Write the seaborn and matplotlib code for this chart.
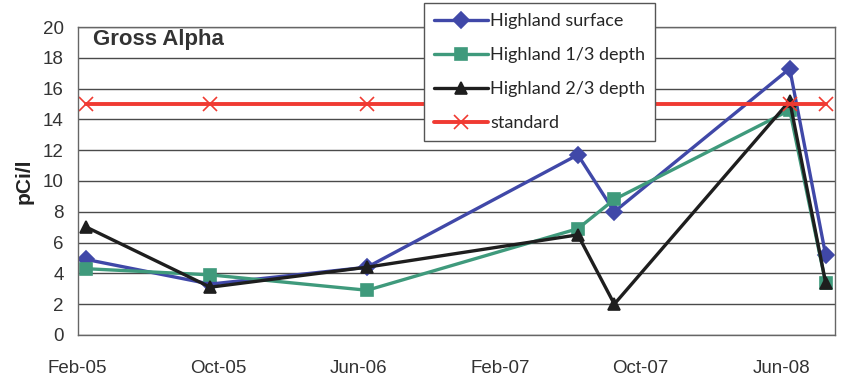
import pandas as pd
import seaborn as sns
import matplotlib.pyplot as plt

# Sampling dates and measured gross alpha (pCi/l)
sample_dates = ["2005-02-16", "2005-09-18", "2006-06-16", "2007-06-15",
                "2007-08-17", "2008-06-15", "2008-08-16"]
surface = [4.9, 3.3, 4.4, 11.7, 8.0, 17.3, 5.2]
depth_1_3 = [4.3, 3.9, 2.9, 6.9, 8.8, 14.6, 3.4]
depth_2_3 = [7.0, 3.1, 4.4, 6.5, 2.0, 15.2, 3.4]
standard = [15, 15, 15, 15, 15, 15, 15]

series_names = ["Highland surface", "Highland 1/3 depth", "Highland 2/3 depth"]
tick_dates = ["2005-02-01", "2005-10-01", "2006-06-01", "2007-02-01", "2007-10-01", "2008-06-01"]
tick_labels = ["Feb-05", "Oct-05", "Jun-06", "Feb-07", "Oct-07", "Jun-08"]

# Build a long table for seaborn
frames = []
for name, vals in zip(series_names, [surface, depth_1_3, depth_2_3]):
    frames.append(pd.DataFrame({"date": pd.to_datetime(sample_dates), "value": vals, "series": name}))
df = pd.concat(frames, ignore_index=True)
df_std = pd.DataFrame({"date": pd.to_datetime(sample_dates), "value": standard})

colors = {"Highland surface": "#4048a8", "Highland 1/3 depth": "#3f9a7c",
          "Highland 2/3 depth": "#1e1e1e"}
markers = {"Highland surface": "D", "Highland 1/3 depth": "s",
           "Highland 2/3 depth": "^"}

sns.set_style("white")
plt.rcParams["font.family"] = ["Liberation Sans", "DejaVu Sans"]

fig = plt.figure(figsize=(8.45, 3.81), dpi=100)
ax = fig.add_axes([0.092, 0.121, 0.896, 0.808])

sns.lineplot(data=df, x="date", y="value", hue="series", style="series",
             hue_order=series_names, style_order=series_names,
             palette=colors, markers=markers, dashes=False,
             linewidth=2.4, markersize=8, ax=ax)
sns.lineplot(data=df_std, x="date", y="value", color="#f03a32", marker="x",
             linewidth=2.8, markersize=10, label="standard", ax=ax)

for line in ax.lines:
    line.set_markeredgecolor(line.get_color())
    line.set_markeredgewidth(1.2)

handles, labels = ax.get_legend_handles_labels()
ax.get_legend().remove()
for h in handles:
    h.set_markeredgecolor(h.get_color())
    h.set_markeredgewidth(1.2)

leg = fig.legend(handles, labels, loc="upper left", bbox_to_anchor=(0.502, 0.992),
                 borderaxespad=0, frameon=True, fancybox=False, edgecolor="#555555",
                 framealpha=1, prop={"family": "Lato", "size": 13}, handlelength=3.0,
                 labelspacing=1.0, borderpad=0.55, handletextpad=0.1)
leg.get_frame().set_linewidth(1.0)

# Axes styling
ax.set_ylim(0, 20)
ax.set_yticks(range(0, 21, 2))
ax.set_xlim(pd.Timestamp("2005-02-01"), pd.Timestamp("2008-09-01"))
ax.set_xticks(pd.to_datetime(tick_dates))
ax.set_xticklabels(tick_labels)
ax.yaxis.grid(True, color="#4a4a4a", linewidth=1.0)
ax.set_axisbelow(True)
for s in ax.spines.values():
    s.set_color("#666666")
    s.set_linewidth(1.0)
ax.tick_params(axis="both", direction="out", length=5, width=1, color="#666666",
               labelsize=13.5, labelcolor="#333333")
ax.tick_params(axis="x", pad=13)
ax.tick_params(axis="y", pad=5)

ax.set_xlabel("")
ax.set_ylabel("pCi/l", fontsize=15, fontweight="bold", color="#222222", labelpad=7)
ax.text(0.02, 0.995, "Gross Alpha", transform=ax.transAxes, fontsize=16,
        fontweight="bold", color="#333333", va="top", ha="left")

plt.savefig("out.png", dpi=100)
